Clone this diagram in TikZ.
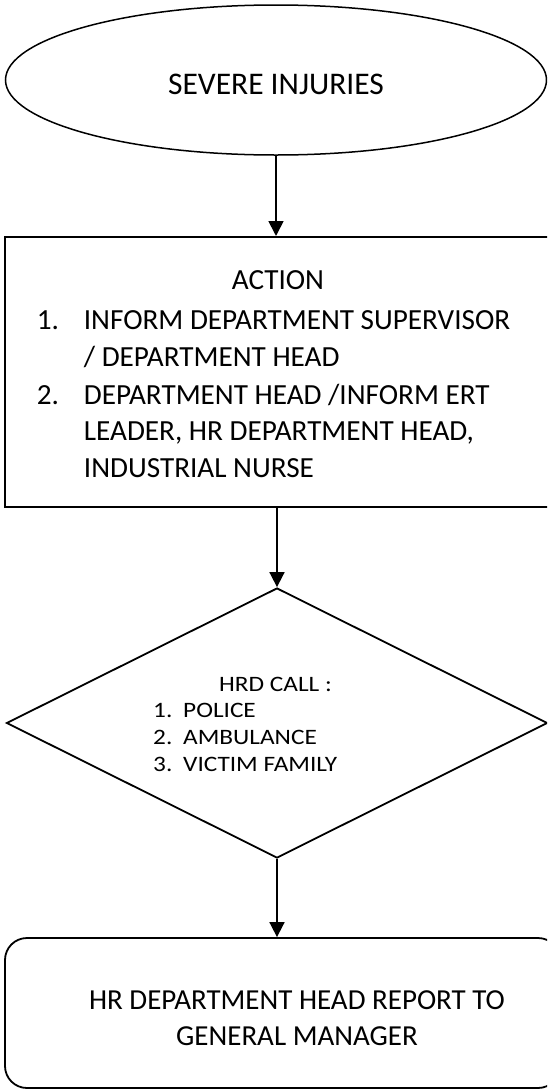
\documentclass[tikz,border=0pt]{standalone}
\usepackage{fontspec}
\setmainfont{Carlito}
\usetikzlibrary{shapes.geometric,arrows.meta}

\begin{document}
\begin{tikzpicture}[x=1pt,y=1pt,
  outline/.style={draw=black, line width=1.8pt, inner sep=0pt},
  flow/.style={draw=black, line width=1.7pt, -{Triangle[length=15pt,width=15pt]}},
  bigtext/.style={inner sep=0pt, font=\fontsize{29.2}{36.7}\selectfont},
  smalltext/.style={inner sep=0pt, font=\fontsize{22}{27}\selectfont\addfontfeature{FakeStretch=1.15}},
]
\useasboundingbox (0,0) rectangle (547,-1090);
\clip (0,0) rectangle (547,-1090);
\fill[white] (0,0) rectangle (547,-1090);

% start terminal
\node[outline, line width=1.5pt, ellipse, minimum width=541pt, minimum height=150pt,
      font=\fontsize{31.5}{38}\selectfont, text height=28pt, text depth=0pt]
  (start) at (276,-80) {SEVERE INJURIES};

% action box
\node[outline, line width=2pt, rectangle, minimum width=555pt, minimum height=270pt]
  (action) at (282.5,-372) {};
\node[bigtext, anchor=base] (actiontitle) at (278,-289.4) {ACTION};
\node[bigtext, anchor=base west] (actionlist) at (36.6,-329.4) {%
  \begin{tabular}[t]{@{}p{47.1pt}@{}l@{}}
  1. & INFORM DEPARTMENT SUPERVISOR\\
     & / DEPARTMENT HEAD\\[1.3pt]
  2. & DEPARTMENT HEAD /INFORM ERT\\
     & LEADER, HR DEPARTMENT HEAD,\\
     & INDUSTRIAL NURSE
  \end{tabular}};

% decision
\node[outline, diamond, minimum width=541pt, minimum height=270pt]
  (call) at (277,-723) {};
\node[smalltext, anchor=base] (calltitle) at (275.5,-691) {HRD CALL :};
\node[smalltext, anchor=base west] (calllist) at (153,-717) {%
  \begin{tabular}[t]{@{}p{30pt}@{}l@{}}
  1. & POLICE\\
  2. & AMBULANCE\\
  3. & VICTIM FAMILY
  \end{tabular}};

% report box
\node[outline, rectangle, rounded corners=22pt, minimum width=555pt, minimum height=150pt]
  (report) at (282.5,-1013) {};
\node[bigtext, anchor=base, align=center, font=\fontsize{29}{36.5}\selectfont]
  (reporttext) at (297,-1045.8) {HR DEPARTMENT HEAD REPORT TO\\GENERAL MANAGER};

% connectors
\draw[flow] (start.south) -- (start.south |- action.north);
\draw[flow] (action.south -| call.north) -- (call.north);
\draw[flow] (call.south) -- (call.south |- report.north);
\end{tikzpicture}
\end{document}
